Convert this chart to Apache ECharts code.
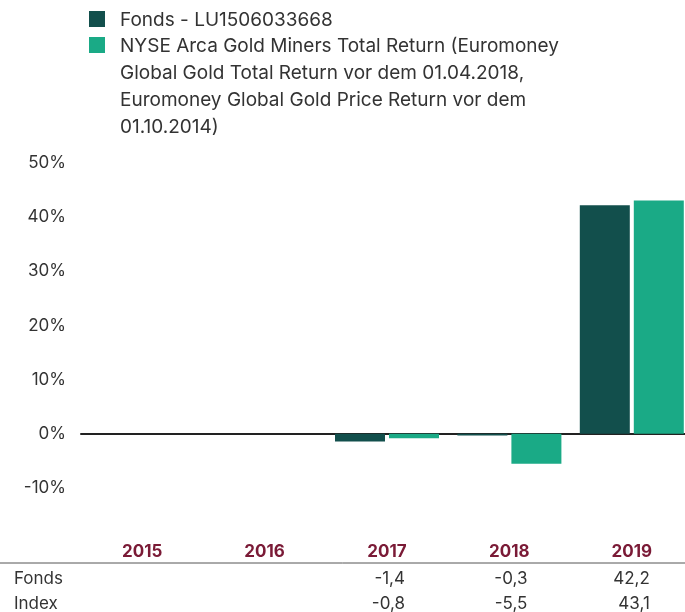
<!DOCTYPE html>
<html><head><meta charset="utf-8">
<script src="https://cdn.jsdelivr.net/npm/echarts@6/dist/echarts.min.js"></script>
<style>html,body{margin:0;padding:0;background:#fff}#c{width:685px;height:612px}</style>
</head><body><div id="c"></div>
<script>
const years = ['2015','2016','2017','2018','2019'];
const fonds = [null, null, -1.4, -0.3, 42.2];
const index = [null, null, -0.8, -5.5, 43.1];
const seriesNames = ['Fonds - LU1506033668', 'NYSE Arca Gold Miners Total Return (Euromoney\nGlobal Gold Total Return vor dem 01.04.2018,\nEuromoney Global Gold Price Return vor dem\n01.10.2014)'];
const rowLabels = ['Fonds', 'Index'];
const colors = ['#124f4c', '#1aaa86'];
const FONT = 'Inter, "Noto Sans", sans-serif';

const chart = echarts.init(document.getElementById('c'));
const legendGraphics = [];
const legendTops = [11, 37];
seriesNames.forEach((n, i) => {
  legendGraphics.push({type:'rect', left: 89, top: legendTops[i], shape:{width:16,height:16}, style:{fill:colors[i]}});
  legendGraphics.push({type:'text', left: 120, top: legendTops[i] - 4, style:{text:n, font:'19px ' + FONT, fill:'#333', lineHeight:27}});
});
chart.setOption({
  animation:false,
  grid:{left:81, top:163, width:612, height:325, containLabel:false, outerBoundsMode:'none'},
  xAxis:[
    {type:'category', data:years, axisLine:{onZero:true, lineStyle:{color:'#222', width:2}}, axisTick:{show:false}, axisLabel:{show:false}},
    {type:'category', data:years, position:'bottom', axisLine:{show:false}, axisTick:{show:false},
     axisLabel:{margin:55, color:'#7a1a36', fontWeight:'bold', fontSize:17, fontFamily:FONT}}
  ],
  yAxis:{type:'value', min:-10, max:50, interval:10, splitLine:{show:false}, axisLine:{show:false}, axisTick:{show:false},
    axisLabel:{formatter:'{value}%', color:'#333', fontSize:17, fontFamily:FONT, margin:15}},
  series:[
    {name:seriesNames[0], type:'bar', data:fonds, barWidth:50, barGap:'8%', itemStyle:{color:colors[0]}},
    {name:seriesNames[1], type:'bar', data:index, barWidth:50, barGap:'8%', itemStyle:{color:colors[1]}}
  ],
  graphic: legendGraphics
});

const fmt = v => v == null ? '' : v.toFixed(1).replace('.', ',');
const rows = [fonds, index];
const rowY = [579, 604];
const tableGraphics = legendGraphics.slice();
tableGraphics.push({type:'line', shape:{x1:0, y1:563, x2:685, y2:563}, style:{stroke:'#555', lineWidth:1}});
rows.forEach((arr, r) => {
  tableGraphics.push({type:'text', x:14, y:rowY[r], style:{text:rowLabels[r], font:'17px ' + FONT, fill:'#333', textAlign:'left', textVerticalAlign:'middle'}});
  arr.forEach((v, i) => {
    if (v == null) return;
    const px = chart.convertToPixel({xAxisIndex:0}, years[i]);
    tableGraphics.push({type:'text', x:px + 18, y:rowY[r], style:{text:fmt(v), font:'17px ' + FONT, fill:'#333', textAlign:'right', textVerticalAlign:'middle'}});
  });
});
chart.setOption({graphic: tableGraphics}, {replaceMerge:['graphic']});
</script></body></html>
